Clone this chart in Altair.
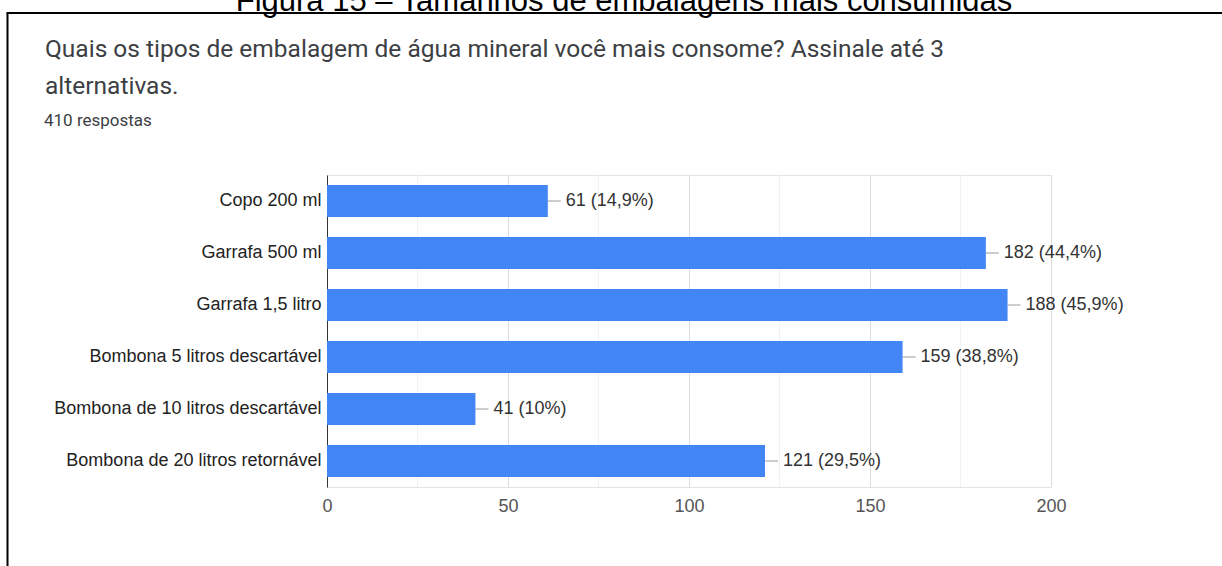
import altair as alt
import pandas as pd

categories = [
    "Copo 200 ml",
    "Garrafa 500 ml",
    "Garrafa 1,5 litro",
    "Bombona 5 litros descartável",
    "Bombona de 10 litros descartável",
    "Bombona de 20 litros retornável",
]
counts = [61, 182, 188, 159, 41, 121]
percents = ["14,9%", "44,4%", "45,9%", "38,8%", "10%", "29,5%"]
major_ticks = [0, 50, 100, 150, 200]
minor_ticks = [25, 75, 125, 175]
question_lines = [
    "Quais os tipos de embalagem de água mineral você mais consome? Assinale até 3",
    "alternativas.",
]
responses = "410 respostas"
caption = "Figura 15 – Tamanhos de embalagens mais consumidas"

df = pd.DataFrame({
    "cat": categories,
    "n": counts,
    "label": [f"{c} ({p})" for c, p in zip(counts, percents)],
})

W, H = 724, 312
PAD_L, PAD_T = 327, 175
FONT = "Liberation Sans"

xs = alt.Scale(domain=[0, 200], nice=False, zero=True)
ys = alt.Scale(domain=categories, paddingInner=0.385)

minor = alt.Chart(pd.DataFrame({"v": minor_ticks})).mark_rule(
    color="#f1f1f1", strokeWidth=1
).encode(x=alt.X("v:Q", scale=xs, title=None))

bars = alt.Chart(df).mark_bar(color="#4285F4").encode(
    x=alt.X(
        "n:Q", scale=xs, title=None,
        axis=alt.Axis(
            values=major_ticks, grid=True, gridColor="#dcdcdc", domain=False,
            ticks=False, labelFontSize=18, labelColor="#555555", labelFont=FONT,
            labelPadding=10, labelFlush=False,
        ),
    ),
    y=alt.Y(
        "cat:N", scale=ys, sort=categories, title=None,
        axis=alt.Axis(
            domain=True, domainColor="#333333", domainWidth=1, ticks=False,
            labelFontSize=18, labelColor="#222222", labelFont=FONT,
            labelPadding=6, labelLimit=500, grid=False,
        ),
    ),
)

stems = alt.Chart(df).mark_rule(color="#9a9a9a", strokeWidth=1, x2Offset=13).encode(
    x=alt.X("n:Q", scale=xs, title=None),
    x2="n:Q",
    y=alt.Y("cat:N", scale=ys, sort=categories, title=None),
)

values = alt.Chart(df).mark_text(
    align="left", baseline="middle", dx=18, fontSize=18, font=FONT, color="#333333"
).encode(
    x=alt.X("n:Q", scale=xs, title=None),
    y=alt.Y("cat:N", scale=ys, sort=categories, title=None),
    text="label:N",
)

title1 = alt.Chart(pd.DataFrame({"t": [question_lines[0]]})).mark_text(
    align="left", baseline="alphabetic", fontSize=24.5, font="Roboto", color="#3c4043"
).encode(x=alt.value(45 - PAD_L), y=alt.value(57 - PAD_T), text="t:N")
title2 = alt.Chart(pd.DataFrame({"t": [question_lines[1]]})).mark_text(
    align="left", baseline="alphabetic", fontSize=24.5, font="Roboto", color="#3c4043"
).encode(x=alt.value(45 - PAD_L), y=alt.value(94 - PAD_T), text="t:N")
resp = alt.Chart(pd.DataFrame({"t": [responses]})).mark_text(
    align="left", baseline="alphabetic", fontSize=17, font="Roboto", color="#3c4043"
).encode(x=alt.value(44 - PAD_L), y=alt.value(126 - PAD_T), text="t:N")
cap = alt.Chart(pd.DataFrame({"t": [caption]})).mark_text(
    align="center", baseline="alphabetic", fontSize=31, font=FONT, color="#000000"
).encode(x=alt.value(624 - PAD_L), y=alt.value(11 - PAD_T), text="t:N")

border_v = alt.Chart(pd.DataFrame({"k": [0]})).mark_rule(color="#000000", strokeWidth=2).encode(
    x=alt.value(7.5 - PAD_L), y=alt.value(13 - PAD_T), y2=alt.value(566 - PAD_T)
)
border_h = alt.Chart(pd.DataFrame({"k": [0]})).mark_rule(color="#000000", strokeWidth=2).encode(
    x=alt.value(6.5 - PAD_L), x2=alt.value(1222 - PAD_L), y=alt.value(13 - PAD_T)
)

chart = alt.layer(
    minor, bars, stems, values, title1, title2, resp, cap, border_v, border_h
).properties(
    width=W, height=H,
    padding={"left": PAD_L, "top": PAD_T, "right": 1222 - PAD_L - W, "bottom": 566 - PAD_T - H},
    autosize=alt.AutoSizeParams(type="none"),
    background="#ffffff",
).configure_view(stroke="#e3e3e3")

chart.save("out.html", embed_options={"renderer": "svg", "actions": False})
